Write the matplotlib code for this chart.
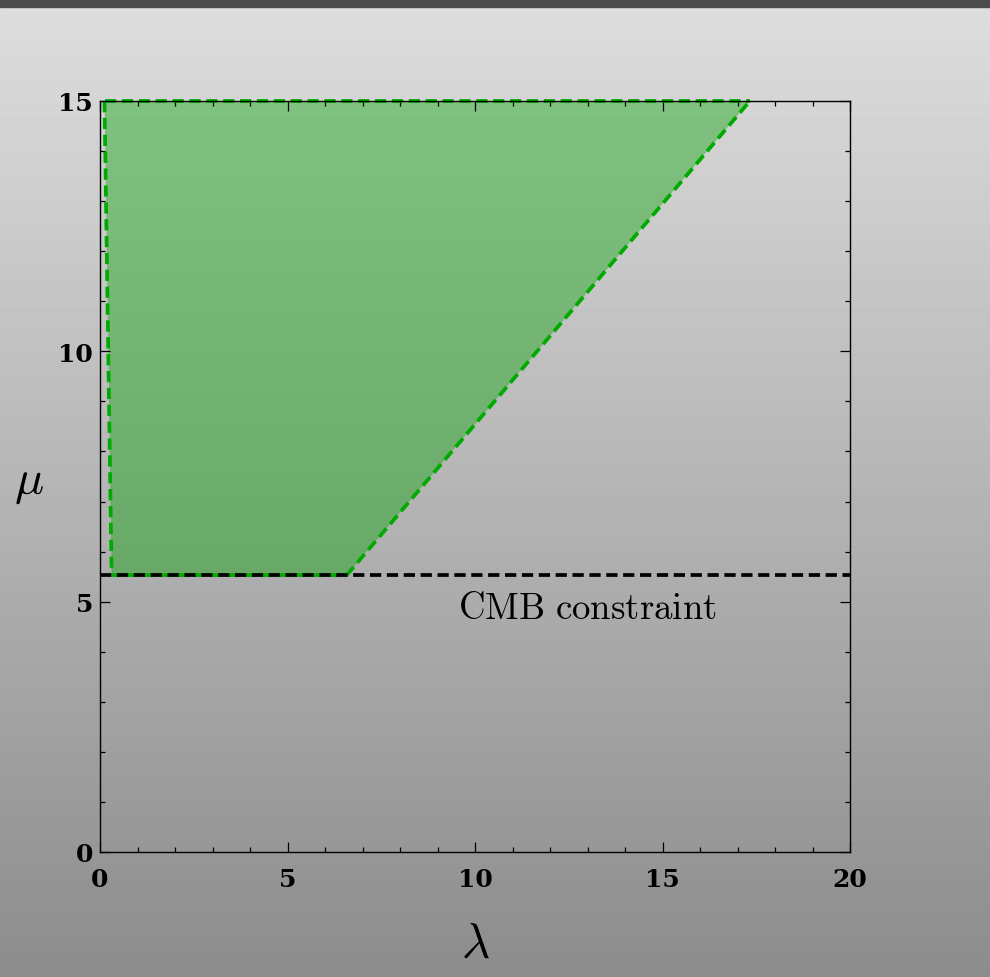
import numpy as np
import matplotlib

matplotlib.use("Agg")
import matplotlib.pyplot as plt
from matplotlib.ticker import MultipleLocator

plt.rcParams["mathtext.fontset"] = "cm"
plt.rcParams["font.family"] = "serif"
plt.rcParams["font.serif"] = ["DejaVu Serif"]

# allowed region in the (lambda, mu) plane
region_lam = [0.12, 0.31, 6.58, 17.33]
region_mu = [15.0, 5.53, 5.53, 15.0]

cmb_mu = 5.53
x_ticks = [0, 5, 10, 15, 20]
y_ticks = [0, 5, 10, 15]

fig = plt.figure(figsize=(9.9, 9.78), dpi=100)

# vertical grey gradient behind everything
bg = fig.add_axes([0, 0, 1, 1], zorder=-10)
grad = np.linspace(0.87, 0.55, 256).reshape(-1, 1)
bg.imshow(grad, cmap="gray", vmin=0, vmax=1, aspect="auto", extent=[0, 1, 0, 1])
bg.axhspan(1 - 8 / 978, 1, color="#4b4b4b")
bg.set_xlim(0, 1)
bg.set_ylim(0, 1)
bg.axis("off")

ax = fig.add_axes([100 / 990, 125 / 978, 750 / 990, 751 / 978])
ax.patch.set_alpha(0)

dash = (3.0, 1.5)
ax.fill(region_lam, region_mu, color=(0.0, 0.64, 0.0), alpha=0.4, lw=0)
ax.plot(region_lam, region_mu, color="#00aa00", ls="--", lw=2.7, dashes=dash)
ax.plot([region_lam[0], region_lam[-1]], [15, 15], color="#00aa00", ls="--",
        lw=2.7, dashes=dash, clip_on=False)
ax.axhline(cmb_mu, color="black", ls="--", lw=2.7, dashes=dash)

ax.text(13.0, 4.88, r"$\mathrm{CMB\ constraint}$", fontsize=26.5,
        ha="center", va="center")

ax.set_xlim(0, 20)
ax.set_ylim(0, 15)
ax.set_xticks(x_ticks)
ax.set_yticks(y_ticks)
ax.set_xticklabels([str(t) for t in x_ticks], fontsize=18, fontweight="bold")
ax.set_yticklabels([str(t) for t in y_ticks], fontsize=18, fontweight="bold")
ax.xaxis.set_minor_locator(MultipleLocator(1))
ax.yaxis.set_minor_locator(MultipleLocator(1))
ax.tick_params(which="both", direction="in", top=True, right=True, width=0.9)
ax.tick_params(which="major", length=7)
ax.tick_params(which="minor", length=3.5)
ax.tick_params(axis="x", which="major", pad=11)
ax.tick_params(axis="y", which="major", pad=5)
for s in ax.spines.values():
    s.set_linewidth(1.0)

ax.set_xlabel(r"$\lambda$", fontsize=35, labelpad=20)
ax.set_ylabel(r"$\mu$", fontsize=35, rotation=0)
ax.yaxis.set_label_coords(-0.095, 0.462)

fig.savefig("out.png", dpi=100)
